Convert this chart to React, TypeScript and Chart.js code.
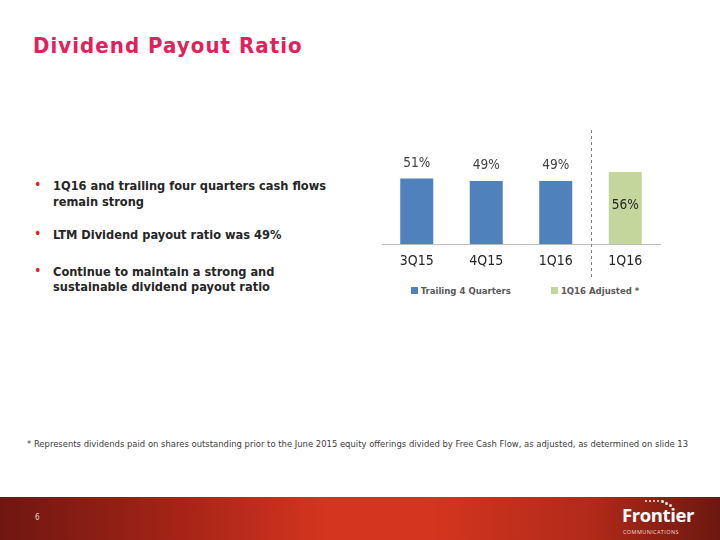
import React, { useEffect, useRef } from "react";
import { Chart, registerables } from "chart.js";

Chart.register(...registerables);

const categories = ["3Q15", "4Q15", "1Q16", "1Q16"];
const trailingValues = [51, 49, 49, null];
const adjustedValues = [null, null, null, 56];
const seriesNames = ["Trailing 4 Quarters", "1Q16 Adjusted *"];
const seriesColors = ["#4F81BD", "#C3D69B"];
const bullets = [
  ["1Q16 and trailing four quarters cash flows", "remain strong"],
  ["LTM Dividend payout ratio was 49%"],
  ["Continue to maintain a strong and", "sustainable dividend payout ratio"],
];
const footnote =
  "*  Represents dividends paid on shares outstanding prior to the June 2015 equity offerings divided by Free Cash Flow, as adjusted,  as determined on slide 13";

const FONT = "'DejaVu Sans Condensed', 'DejaVu Sans', sans-serif";

const labelPlugin = {
  id: "valueLabels",
  afterDatasetsDraw(chart: any) {
    const ctx = chart.ctx;
    ctx.save();
    ctx.font = `13.5px ${FONT}`;
    ctx.textAlign = "center";
    chart.data.datasets.forEach((ds: any, di: number) => {
      const meta = chart.getDatasetMeta(di);
      meta.data.forEach((bar: any, i: number) => {
        const v = ds.data[i];
        if (v == null) return;
        if (di === 0) {
          ctx.fillStyle = "#404040";
          ctx.textBaseline = "middle";
          ctx.fillText(`${v}%`, bar.x, bar.y - 15);
        } else {
          ctx.fillStyle = "#262626";
          ctx.textBaseline = "middle";
          ctx.fillText(`${v}%`, bar.x, (bar.y + bar.base) / 2 - 3);
        }
      });
    });
    ctx.restore();
  },
};

const dividerPlugin = {
  id: "divider",
  afterDraw(chart: any) {
    const x = chart.scales.x;
    const px = (x.getPixelForValue(2) + x.getPixelForValue(3)) / 2;
    const ctx = chart.ctx;
    ctx.save();
    ctx.strokeStyle = "#7f7f7f";
    ctx.lineWidth = 1;
    ctx.setLineDash([3, 3]);
    ctx.beginPath();
    ctx.moveTo(Math.round(px) + 0.5, chart.chartArea.top - 11);
    ctx.lineTo(Math.round(px) + 0.5, chart.chartArea.bottom + 34);
    ctx.stroke();
    ctx.restore();
  },
};

function BarChart() {
  const ref = useRef<HTMLCanvasElement>(null);
  useEffect(() => {
    const chart = new Chart(ref.current!, {
      type: "bar",
      data: {
        labels: categories,
        datasets: [
          {
            label: seriesNames[0],
            data: trailingValues,
            backgroundColor: seriesColors[0],
            grouped: false,
            barPercentage: 1,
            categoryPercentage: 0.475,
          } as any,
          {
            label: seriesNames[1],
            data: adjustedValues,
            backgroundColor: seriesColors[1],
            grouped: false,
            barPercentage: 1,
            categoryPercentage: 0.475,
          } as any,
        ],
      },
      options: {
        responsive: false,
        animation: false,
        layout: { padding: { left: 12, right: 10, top: 12, bottom: 0 } },
        plugins: { legend: { display: false }, tooltip: { enabled: false } },
        scales: {
          x: {
            grid: { display: false, drawTicks: false },
            border: { display: true, color: "#bfbfbf" },
            ticks: { color: "#262626", font: { family: FONT, size: 14 }, padding: 9 },
          },
          y: { display: false, min: 0, max: 80 },
        },
      },
      plugins: [labelPlugin, dividerPlugin],
    });
    return () => chart.destroy();
  }, []);
  return <canvas ref={ref} width={300} height={150} style={{ display: "block" }} />;
}

export default function App() {
  return (
    <div
      style={{
        position: "absolute",
        left: 0,
        top: 0,
        width: 720,
        height: 540,
        background: "#ffffff",
        overflow: "hidden",
        fontFamily: FONT,
      }}
    >
      <div
        style={{
          position: "absolute",
          left: 33,
          top: 33,
          fontSize: 22,
          fontWeight: "bold",
          color: "#E0215C",
          letterSpacing: 1.05,
          whiteSpace: "nowrap",
        }}
      >
        Dividend Payout Ratio
      </div>

      <div style={{ position: "absolute", left: 34, top: 178, width: 330 }}>
        {bullets.map((lines, i) => (
          <div key={i} style={{ position: "relative", marginBottom: i === 0 ? 18 : 21 }}>
            <span style={{ position: "absolute", left: 0, top: -2, color: "#E31B23", fontSize: 14 }}>•</span>
            <div
              style={{
                marginLeft: 19,
                fontSize: 12.7,
                fontWeight: "bold",
                color: "#262626",
                lineHeight: "15.5px",
                whiteSpace: "nowrap",
              }}
            >
              {lines.map((l, j) => (
                <div key={j}>{l}</div>
              ))}
            </div>
          </div>
        ))}
      </div>

      <div style={{ position: "absolute", left: 370, top: 129 }}>
        <BarChart />
      </div>

      <div
        style={{
          position: "absolute",
          left: 386,
          top: 285,
          width: 278,
          display: "flex",
          justifyContent: "center",
          gap: 40,
          fontSize: 9.5,
          fontWeight: "bold",
          color: "#595959",
        }}
      >
        {seriesNames.map((n, i) => (
          <div key={i} style={{ display: "flex", alignItems: "center" }}>
            <span style={{ width: 7, height: 7, background: seriesColors[i], marginRight: 3, display: "inline-block" }} />
            {n}
          </div>
        ))}
      </div>

      <div
        style={{
          position: "absolute",
          left: 27,
          top: 438,
          fontSize: 9.4,
          color: "#404040",
          whiteSpace: "nowrap",
        }}
      >
        {footnote}
      </div>

      <div
        style={{
          position: "absolute",
          left: 0,
          top: 497,
          width: 720,
          height: 43,
          background:
            "linear-gradient(90deg, #6e1710 0%, #a52417 25%, #d3351f 45%, #d3351f 60%, #b12a19 82%, #6c1810 100%)",
        }}
      >
        <div style={{ position: "absolute", left: 35, top: 16, color: "#e8d6d0", fontSize: 8 }}>6</div>
        {[0, 1, 2, 3, 4, 5, 6].map((k) => (
          <span
            key={k}
            style={{
              position: "absolute",
              left: 645 + k * 4,
              top: 3 + (k > 4 ? (k - 4) * 2 : 0),
              width: 1.5 + k * 0.25,
              height: 1.5 + k * 0.25,
              borderRadius: "50%",
              background: "#f5e0da",
            }}
          />
        ))}
        <div
          style={{
            position: "absolute",
            left: 622,
            top: 9,
            color: "#ffffff",
            fontFamily: "'Open Sans', sans-serif",
            fontWeight: "bold",
            fontSize: 18.5,
            letterSpacing: -0.4,
            lineHeight: "18px",
          }}
        >
          Frontier
        </div>
        <div
          style={{
            position: "absolute",
            left: 623,
            top: 32,
            color: "#f3d9d2",
            fontFamily: "'Open Sans', sans-serif",
            fontSize: 5.5,
            lineHeight: "7px",
            letterSpacing: 0.4,
          }}
        >
          COMMUNICATIONS
        </div>
      </div>
    </div>
  );
}
